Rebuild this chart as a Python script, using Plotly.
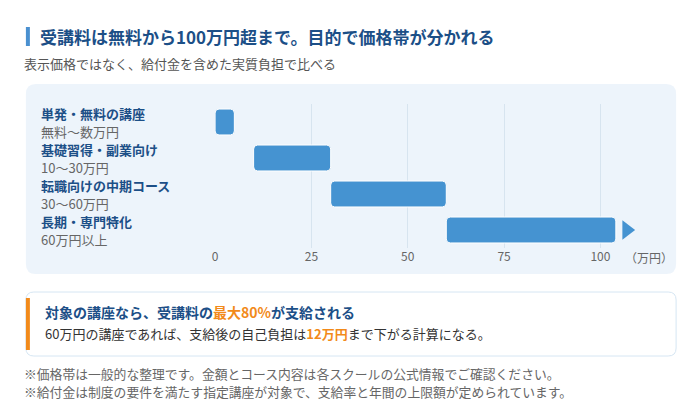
import plotly.graph_objects as go

# price bands (万円)
courses = ["単発・無料の講座", "基礎習得・副業向け", "転職向けの中期コース", "長期・専門特化"]
ranges = ["無料〜数万円", "10〜30万円", "30〜60万円", "60万円以上"]
starts = [0, 10, 30, 60]
ends = [5, 30, 60, 104]
ticks = [0, 25, 50, 75, 100]

W, H = 700, 410
FONT = "Noto Sans CJK JP"
NAVY = "#1c4f87"
BLUE = "#4593d1"
ORANGE = "#f28a1a"
GRAY = "#666666"


def px(x):
    return x / W


def py(y):
    return 1 - y / H


def rrect(x0, y0, x1, y1, r):
    rx, ry = r / W, r / H
    X0, X1 = px(x0), px(x1)
    Y0, Y1 = py(y0), py(y1)  # Y0 top
    return (f"M {X0+rx},{Y0} L {X1-rx},{Y0} Q {X1},{Y0} {X1},{Y0-ry} "
            f"L {X1},{Y1+ry} Q {X1},{Y1} {X1-rx},{Y1} L {X0+rx},{Y1} "
            f"Q {X0},{Y1} {X0},{Y1+ry} L {X0},{Y0-ry} Q {X0},{Y0} {X0+rx},{Y0} Z")


fig = go.Figure()
fig.add_trace(go.Bar(
    y=courses, x=[e - s for s, e in zip(starts, ends)], base=starts,
    orientation="h", width=0.72,
    marker=dict(color=BLUE, line=dict(color="#ffffff", width=1), cornerradius=4),
    hoverinfo="skip", showlegend=False,
))
# arrow showing the band continues past 100
fig.add_trace(go.Scatter(
    x=[ends[-1] + 2.8], y=[courses[-1]], mode="markers",
    marker=dict(symbol="triangle-right", size=17, color=BLUE),
    hoverinfo="skip", showlegend=False,
))

shapes = [
    dict(type="path", xref="paper", yref="paper", path=rrect(23, 84, 676, 274, 10),
         fillcolor="#edf4fb", line=dict(width=0), layer="below"),
    dict(type="rect", xref="paper", yref="paper", x0=px(23), x1=px(27), y0=py(46), y1=py(27),
         fillcolor="#4a90d0", line=dict(width=0)),
    dict(type="path", xref="paper", yref="paper", path=rrect(23, 292, 676, 356, 8),
         fillcolor="#ffffff", line=dict(color="#d6e6f3", width=1)),
    dict(type="rect", xref="paper", yref="paper", x0=px(23), x1=px(27), y0=py(350), y1=py(298),
         fillcolor=ORANGE, line=dict(width=0)),
]

ann = []


def txt(x, y, s, size, color, bold=False):
    ann.append(dict(x=px(x), y=py(y), xref="paper", yref="paper", text=f"<b>{s}</b>" if bold else s,
                    showarrow=False, xanchor="left", yanchor="middle", align="left", borderpad=0,
                    font=dict(family=FONT, size=size, color=color)))


txt(36, 37, "受講料は無料から100万円超まで。目的で価格帯が分かれる", 17, NAVY, True)
txt(20, 63, "表示価格ではなく、給付金を含めた実質負担で比べる", 13, "#555555")

for c, r in zip(courses, ranges):
    ann.append(dict(x=px(37), y=c, xref="paper", yref="y", yshift=9, text=f"<b>{c}</b>",
                    showarrow=False, xanchor="left", yanchor="middle", borderpad=0,
                    font=dict(family=FONT, size=13, color=NAVY)))
    ann.append(dict(x=px(37), y=c, xref="paper", yref="y", yshift=-9, text=r,
                    showarrow=False, xanchor="left", yanchor="middle", borderpad=0,
                    font=dict(family=FONT, size=13, color=GRAY)))

txt(624, 257, "（万円）", 12, GRAY)

txt(41, 312, f"<b>対象の講座なら、受講料の<span style='color:{ORANGE}'>最大80%</span>が支給される</b>", 14, NAVY)
txt(41, 333, f"60万円の講座であれば、支給後の自己負担は<b><span style='color:{ORANGE}'>12万円</span></b>まで下がる計算になる。", 13, "#333333")

txt(20, 373.5, "※価格帯は一般的な整理です。金額とコース内容は各スクールの公式情報でご確認ください。", 12.8, GRAY)
txt(20, 391.5, "※給付金は制度の要件を満たす指定講座が対象で、支給率と年間の上限額が定められています。", 12.8, GRAY)

fig.update_layout(
    width=W, height=H, margin=dict(l=0, r=0, t=0, b=0),
    paper_bgcolor="#ffffff", plot_bgcolor="rgba(0,0,0,0)",
    font=dict(family=FONT),
    shapes=shapes, annotations=ann, bargap=0.28,
    xaxis=dict(domain=[px(213), px(638.7)], range=[0, 110], tickvals=ticks,
               showgrid=True, gridcolor="#d7e4ef", gridwidth=1, zeroline=False,
               showline=False, ticks="", tickfont=dict(size=12, color=GRAY, family=FONT)),
    yaxis=dict(domain=[py(248), py(104)], range=[3.5, -0.5], type="category",
               categoryorder="array", categoryarray=courses,
               showticklabels=False, showgrid=False, zeroline=False),
)

fig.write_html("out.html", config={"displayModeBar": False},
               post_script="document.body.style.margin='0';")
